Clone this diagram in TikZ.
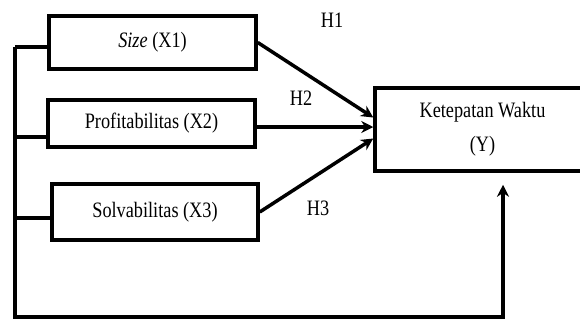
\documentclass[tikz,border=0pt]{standalone}
\usepackage{fontspec}
\setmainfont[FakeStretch=0.83]{Liberation Serif}
\usetikzlibrary{arrows.meta}
\begin{document}
\begin{tikzpicture}[x=1pt,y=-1pt,
  varbox/.style={draw,line width=3.5pt,minimum width=207pt,inner sep=0pt,font=\fontsize{22}{26}\selectfont},
  conn/.style={line width=3.5pt},
  arr/.style={line width=3.5pt,-{Stealth[length=12pt,width=12pt]}},
  hlabel/.style={font=\fontsize{22}{26}\selectfont,inner sep=0pt}]
\useasboundingbox (0,0) rectangle (580,322);
\clip (0,0) rectangle (580,322);
\node[varbox,minimum height=53pt] (X1) at (152.5,42.5) {\textit{Size} (X1)};
\node[varbox,minimum height=47pt] (X2) at (151.5,123.5) {Profitabilitas (X2)};
\node[varbox,minimum width=206pt,minimum height=56pt] (X3) at (155,212) {Solvabilitas (X3)};
\node[draw,line width=3.5pt,minimum width=215pt,minimum height=83pt,align=center,inner sep=0pt,font=\fontsize{22}{26}\selectfont] (Y) at (482.5,129.5) {Ketepatan Waktu\\[8pt](Y)};
\node[hlabel] (H1) at (332,20) {H1};
\node[hlabel] (H2) at (301,98) {H2};
\node[hlabel] (H3) at (318,208) {H3};
\coordinate (t1) at ([yshift=12pt]Y.west);
\coordinate (t2) at ([yshift=2.5pt]Y.west);
\coordinate (t3) at ([yshift=-9pt]Y.west);
\coordinate (b1) at (15,47);
\coordinate (b2) at (15,137);
\coordinate (b3) at (15,218);
\coordinate (c1) at (15,317);
\coordinate (c2) at ([xshift=20.5pt]Y.south |- c1);
\coordinate (ty) at ([xshift=20.5pt,yshift=-12pt]Y.south);
\draw[arr] (X1.east) -- (t1);
\draw[arr] (X2.east |- t2) -- (t2);
\draw[arr] (X3.east) -- (t3);
\draw[conn] (b1) -- (X1.west |- b1);
\draw[conn] (b2) -- (X2.west |- b2);
\draw[conn] (b3) -- (X3.west |- b3);
\draw[arr,line join=miter] (b1) -- (c1) -- (c2) -- (ty);
\end{tikzpicture}
\end{document}
